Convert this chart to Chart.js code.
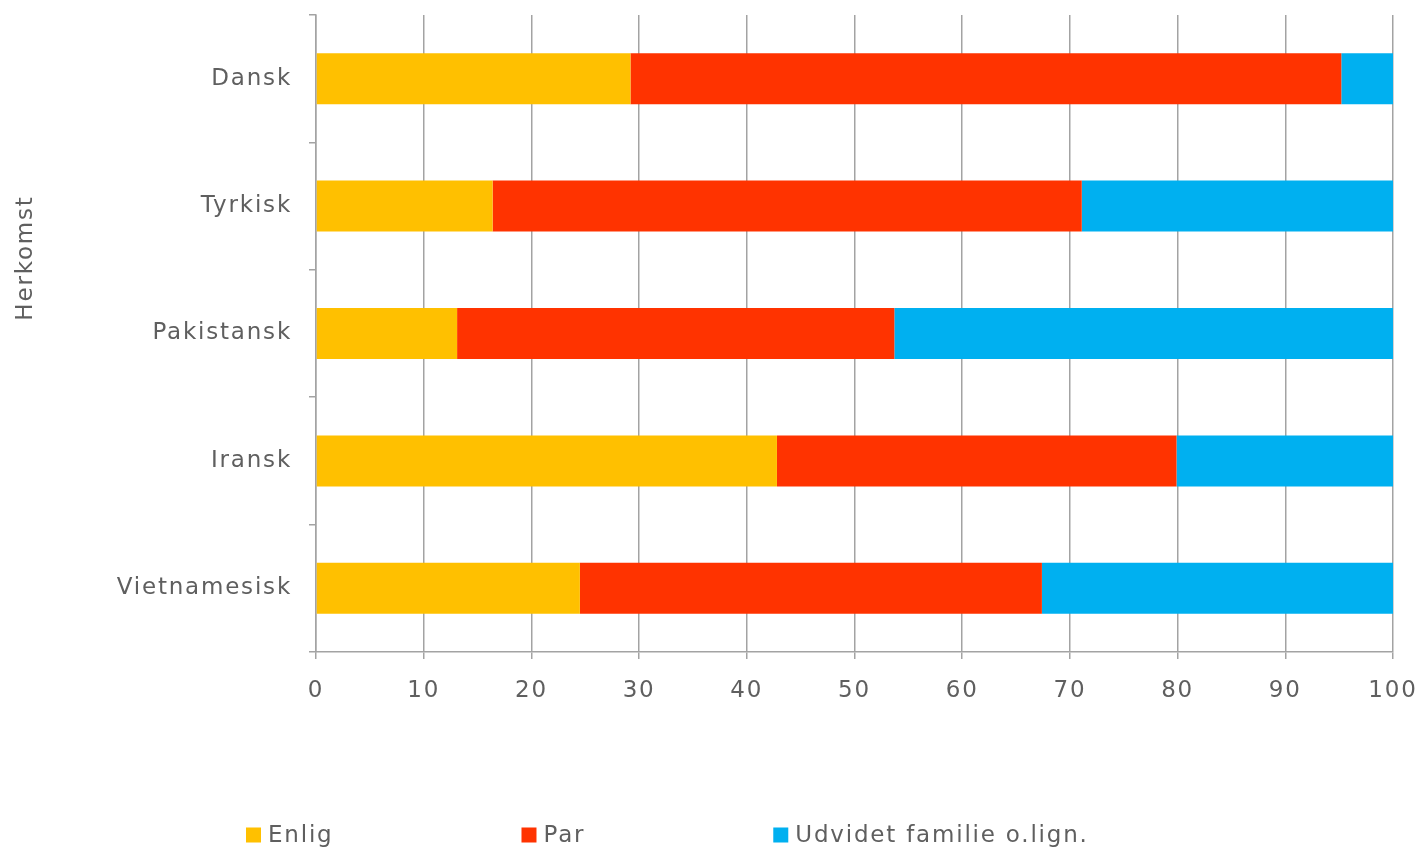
<!DOCTYPE html>
<html>
<head>
<meta charset="utf-8">
<script src="https://cdn.jsdelivr.net/npm/chart.js@4/dist/chart.umd.min.js"></script>
<style>
  html, body { margin: 0; padding: 0; background: #ffffff; }
  #wrap { width: 1424px; height: 850px; position: relative; }
</style>
</head>
<body>
<div id="wrap"><canvas id="c"></canvas></div>
<script>
const categories = ['Dansk', 'Tyrkisk', 'Pakistansk', 'Iransk', 'Vietnamesisk'];
const enlig    = [29.2, 16.4, 13.1, 42.8, 24.5];
const par      = [66.0, 54.7, 40.6, 37.1, 42.9];
const udvidet  = [4.8, 28.9, 46.3, 20.1, 32.6];
const seriesNames = ['Enlig', 'Par', 'Udvidet familie o.lign.'];
const xTicks = [0, 10, 20, 30, 40, 50, 60, 70, 80, 90, 100];
const yTitle = 'Herkomst';

const TEXT = '#5f5f5f';
const GRID = '#a3a3a3';
const FONT = '"DejaVu Sans", Verdana, sans-serif';
const SPACING = '1.8px';

const spacingPlugin = {
  id: 'spacing',
  beforeUpdate(c) { c.ctx.letterSpacing = SPACING; },
  beforeDraw(c) { c.ctx.letterSpacing = SPACING; }
};

const extrasPlugin = {
  id: 'extras',
  afterDraw(c) {
    const ctx = c.ctx;
    ctx.save();
    ctx.letterSpacing = SPACING;
    ctx.fillStyle = TEXT;
    ctx.font = '23px ' + FONT;
    // y-axis title
    ctx.save();
    ctx.translate(26, 258);
    ctx.rotate(-Math.PI / 2);
    ctx.textAlign = 'center';
    ctx.textBaseline = 'middle';
    ctx.fillText(yTitle, 0, 0);
    ctx.restore();
    // legend
    let x = 246;
    const y = 835;
    const box = 15;
    ctx.textBaseline = 'middle';
    ctx.textAlign = 'left';
    c.data.datasets.forEach(ds => {
      ctx.fillStyle = ds.backgroundColor;
      ctx.fillRect(x, y - box / 2, box, box);
      ctx.fillStyle = TEXT;
      ctx.fillText(ds.label, x + box + 7, y + 1);
      const w = ctx.measureText(ds.label).width;
      x += box + 7 + w + 188;
    });
    ctx.restore();
  }
};

new Chart(document.getElementById('c'), {
  type: 'bar',
  data: {
    labels: categories,
    datasets: [
      { label: seriesNames[0], data: enlig,   backgroundColor: '#FFC000' },
      { label: seriesNames[1], data: par,     backgroundColor: '#FF3300' },
      { label: seriesNames[2], data: udvidet, backgroundColor: '#00B0F0' }
    ]
  },
  options: {
    indexAxis: 'y',
    responsive: true,
    maintainAspectRatio: false,
    animation: false,
    layout: { padding: { top: 15, right: 31, left: 0, bottom: 0 } },
    datasets: { bar: { barPercentage: 0.4, categoryPercentage: 1.0 } },
    plugins: {
      legend: { display: false },
      tooltip: { enabled: false }
    },
    scales: {
      x: {
        stacked: true,
        min: 0,
        max: 100,
        afterBuildTicks(s) { s.ticks = xTicks.map(v => ({ value: v })); },
        afterFit(s) { s.height = 198; s.paddingLeft = 0; s.paddingRight = 0; },
        grid: { color: GRID, lineWidth: 1.5, tickLength: 7, drawTicks: true },
        border: { color: GRID, width: 1.5 },
        ticks: { color: TEXT, font: { family: FONT, size: 23 }, padding: 18, maxRotation: 0 }
      },
      y: {
        stacked: true,
        afterFit(s) { s.width = 316; s.paddingTop = 0; s.paddingBottom = 0; },
        grid: { offset: true, drawOnChartArea: false, color: GRID, lineWidth: 1.5, tickLength: 7 },
        border: { color: GRID, width: 1.5 },
        ticks: { color: TEXT, font: { family: FONT, size: 23 }, padding: 17 }
      }
    }
  },
  plugins: [spacingPlugin, extrasPlugin]
});
</script>
</body>
</html>
